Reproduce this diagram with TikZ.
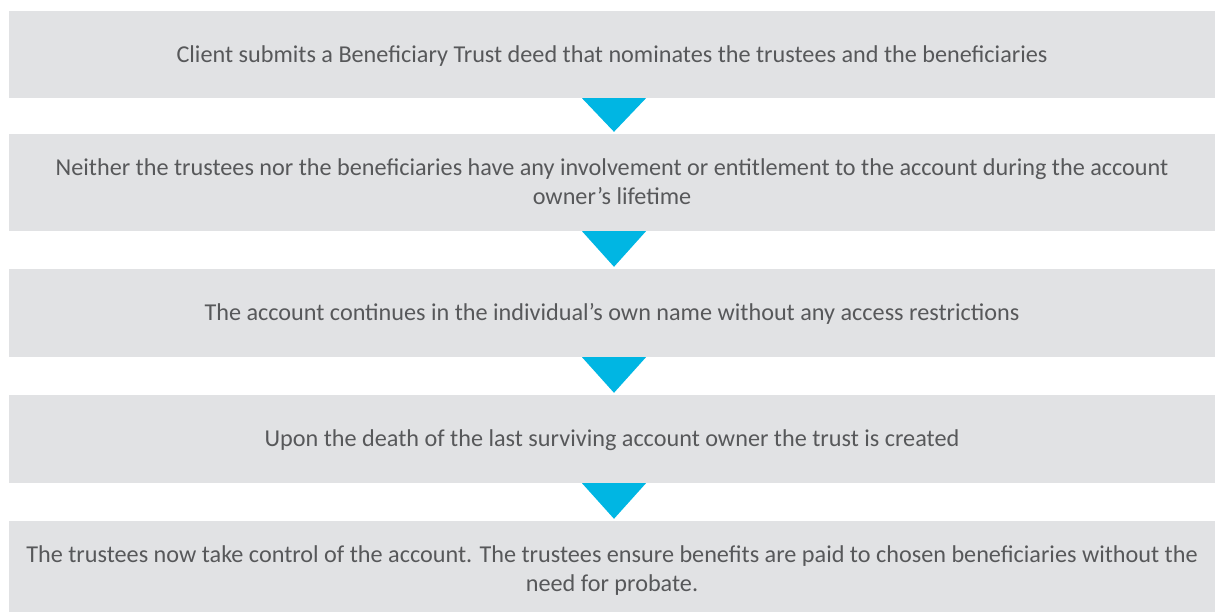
\documentclass[tikz,border=0pt]{standalone}
\usepackage{fontspec}
\setmainfont{Carlito}
\usepackage{xcolor}
\usepackage{tikz}
\usetikzlibrary{calc}

\definecolor{boxgray}{HTML}{E1E2E4}
\definecolor{textgray}{HTML}{57585A}
\definecolor{arrowblue}{HTML}{00B6E3}

\tikzset{
    stepbox/.style = {fill = boxgray, text = textgray, minimum width = 1206bp,
        inner sep = 0pt, align = center, font = \fontsize{24.3}{29}\selectfont,
        text height = 15.6bp, text depth = 0bp},
    twoline/.style = {text height = 44.6bp},
    downtri/.style = {fill = arrowblue}
}

\begin{document}
\begin{tikzpicture}[x = 1bp, y = -1bp]
        \useasboundingbox (0, 0) rectangle (1215, 612);

        \node[stepbox, minimum height = 87bp] (box1) at (612, 54.5)
            {Client submits a Beneficiary Trust deed that nominates the trustees and the beneficiaries};
        \node[stepbox, twoline, minimum height = 97bp] (box2) at (612, 182.5)
            {Neither the trustees nor the beneficiaries have any involvement or entitlement to the account during the account\\ owner’s lifetime};
        \node[stepbox, minimum height = 88bp] (box3) at (612, 313)
            {The account continues in the individual’s own name without any access restrictions};
        \node[stepbox, minimum height = 88bp] (box4) at (612, 439)
            {Upon the death of the last surviving account owner the trust is created};
        \node[stepbox, twoline, minimum height = 97bp] (box5) at (612, 569.5)
            {The trustees now take control of the account. The trustees ensure benefits are paid to chosen beneficiaries without the\\ need for probate.};

        % arrows between the steps
        \foreach \a/\b in {box1/box2, box2/box3, box3/box4, box4/box5}
            \fill[downtri] ($(\a.south) + (-30, 0)$) -- ($(\a.south) + (34, 0)$)
                -- ($(\b.north) + (2, -2)$) -- cycle;
    \end{tikzpicture}
\end{document}
